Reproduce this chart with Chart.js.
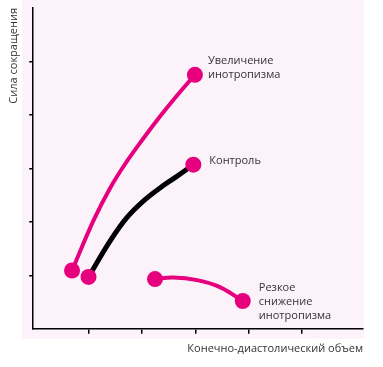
<!DOCTYPE html>
<html><head><meta charset="utf-8">
<script src="https://cdn.jsdelivr.net/npm/chart.js@4"></script>
<style>html,body{margin:0;padding:0;background:#fff}#wrap{width:383px;height:367px}</style>
</head><body><div id="wrap"><canvas id="c" width="383" height="367"></canvas></div>
<script>
const xTitle = "Конечно-диастолический объем";
const yTitle = "Сила сокращения";
const xTicks = [1, 2, 3, 4, 5];
const yTicks = [1, 2, 3, 4, 5];
const incX = [0.68, 1.08, 1.40, 1.71, 2.02, 2.34, 2.65, 2.99];
const incY = [1.09, 2.02, 2.64, 3.13, 3.56, 3.98, 4.36, 4.75];
const ctrlX = [0.99, 1.40, 1.71, 2.02, 2.34, 2.65, 2.96];
const ctrlY = [0.97, 1.65, 2.08, 2.39, 2.64, 2.85, 3.07];
const decX = [2.24, 2.58, 3.03, 3.46, 3.89];
const decY = [0.93, 0.96, 0.91, 0.78, 0.52];
const incLabel = ["Увеличение", "инотропизма"];
const ctrlLabel = ["Контроль"];
const decLabel = ["Резкое", "снижение", "инотропизма"];

const MAG = '#e6007e';
function pts(xs, ys){ return xs.map((x,i)=>({x:x,y:ys[i]})); }
function radii(n){ return Array.from({length:n},(_,i)=>(i===0||i===n-1)?8:0); }

const labelSets = [
  {ds:0, lines:incLabel, dx:13, dy:-14},
  {ds:1, lines:ctrlLabel, dx:16, dy:-4},
  {ds:2, lines:decLabel, dx:16, dy:-13}
];

const bgPlugin = {
  id:'bg',
  beforeDraw(chart){
    const {ctx, chartArea:a} = chart;
    ctx.save();
    ctx.fillStyle = '#fcf3fa';
    ctx.fillRect(a.left-11, 0, a.right-a.left+12, a.bottom+10);
    ctx.restore();
  },
  afterDraw(chart){
    const ctx = chart.ctx;
    ctx.save();
    ctx.font = '11px "Open Sans", sans-serif';
    ctx.fillStyle = '#333';
    ctx.textBaseline = 'middle';
    labelSets.forEach(s=>{
      const meta = chart.getDatasetMeta(s.ds);
      const p = meta.data[meta.data.length-1];
      s.lines.forEach((t,i)=>ctx.fillText(t, p.x + s.dx, p.y + s.dy + i*14));
    });
    ctx.restore();
  }
};

new Chart(document.getElementById('c'), {
  type:'line',
  data:{datasets:[
    {data:pts(incX,incY), borderColor:MAG, backgroundColor:MAG, borderWidth:4, tension:0.4, pointRadius:radii(incX.length), pointBorderWidth:0, pointBackgroundColor:MAG},
    {data:pts(ctrlX,ctrlY), borderColor:'#000', backgroundColor:MAG, borderWidth:5, tension:0.4, pointRadius:radii(ctrlX.length), pointBorderWidth:0, pointBackgroundColor:MAG},
    {data:pts(decX,decY), borderColor:MAG, backgroundColor:MAG, borderWidth:4, tension:0.4, pointRadius:radii(decX.length), pointBorderWidth:0, pointBackgroundColor:MAG}
  ]},
  options:{
    responsive:false, animation:false, events:[],
    layout:{padding:{top:5, right:20, left:3, bottom:8}},
    plugins:{legend:{display:false}, tooltip:{enabled:false}},
    scales:{
      x:{type:'linear', min:-0.05, max:6.15,
        afterBuildTicks(s){ s.ticks = xTicks.map(v=>({value:v})); },
        ticks:{display:false},
        grid:{drawOnChartArea:false, drawTicks:true, tickLength:5, color:'#000', lineWidth:1.5},
        border:{color:'#000', width:1.5},
        title:{display:true, text:xTitle, align:'end', color:'#333', font:{family:'"Open Sans", sans-serif', size:11}, padding:{top:8}}
      },
      y:{type:'linear', min:0, max:6,
        afterBuildTicks(s){ s.ticks = yTicks.map(v=>({value:v})); },
        ticks:{display:false},
        grid:{drawOnChartArea:false, drawTicks:true, tickLength:4, color:'#000', lineWidth:1.5},
        border:{color:'#000', width:1.5},
        title:{display:true, text:yTitle, align:'end', color:'#333', font:{family:'"Open Sans", sans-serif', size:11}, padding:{bottom:9}}
      }
    }
  },
  plugins:[bgPlugin]
});
</script></body></html>
